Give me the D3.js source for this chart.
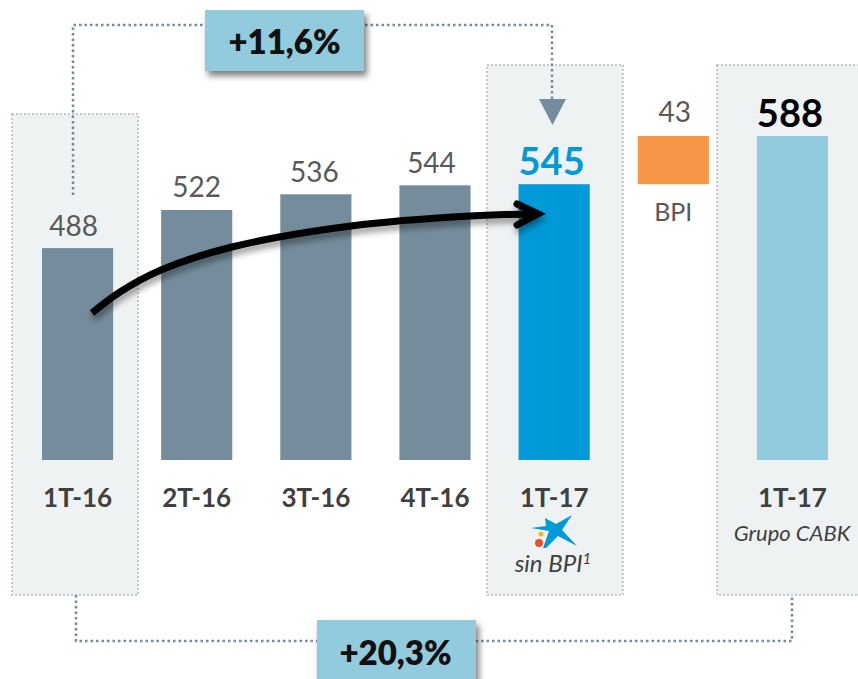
<!DOCTYPE html>
<html>
<head>
<meta charset="utf-8">
<script src="https://cdn.jsdelivr.net/npm/d3@7"></script>
<style>
  html, body { margin: 0; padding: 0; background: #fff; }
  svg { display: block; }
  text { font-family: Lato, "Open Sans", sans-serif; }
</style>
</head>
<body>
<script>
// Quarterly figures
var categories = ['1T-16', '2T-16', '3T-16', '4T-16', '1T-17', 'BPI', '1T-17'];
var values = [488, 522, 536, 544, 545, 43, 588];
var bases = [0, 0, 0, 0, 0, 545, 0]; // BPI sits on top of 545
var barColors = ['#748c9c', '#748c9c', '#748c9c', '#748c9c', '#009ad9', '#f79646', '#92cbdd'];
var labelColors = ['#595959', '#595959', '#595959', '#595959', '#009ad9', '#595959', '#000000'];
var labelWeights = [400, 400, 400, 400, 700, 400, 700];
var subLabels = ['sin BPI', 'Grupo CABK'];
var growthLabels = ['+11,6%', '+20,3%'];

var svg = d3.select('body').append('svg')
   .attr('width', 858)
   .attr('height', 679);

var defs = svg.append('defs');
var shadow = defs.append('filter').attr('id', 'shadow')
   .attr('x', '-20%').attr('y', '-20%').attr('width', '140%').attr('height', '150%');
shadow.append('feDropShadow')
   .attr('dx', 3).attr('dy', 5).attr('stdDeviation', 3)
   .attr('flood-color', '#000').attr('flood-opacity', 0.5);
var arrowShadow = defs.append('filter').attr('id', 'arrowShadow')
   .attr('x', '-10%').attr('y', '-30%').attr('width', '120%').attr('height', '160%');
arrowShadow.append('feDropShadow')
   .attr('dx', 1).attr('dy', 5).attr('stdDeviation', 3)
   .attr('flood-color', '#000').attr('flood-opacity', 0.4);

// band scale by index because 1T-17 appears twice
var x = d3.scaleBand()
   .domain(d3.range(categories.length))
   .range([42, 828])
   .paddingInner(0.403)
   .paddingOuter(0);

// the bars are cut off at the bottom in the original, so the axis starts near 299
var y = d3.scaleLinear()
   .domain([299, 588])
   .range([460, 136])
   .clamp(true);

// the labels are not quite centred over the bars in the original
var labelShift = [-4, 0, -1.5, -3.5, -2.5, 1.5, -2.5];
var labelLift = [12, 13, 12, 12, 9, 14, 9];

// grey panels behind first and last columns
var panels = [
  { x: 12, y: 114, w: 126, h: 481 },
  { x: 487, y: 65, w: 136, h: 530 },
  { x: 717, y: 65, w: 145, h: 530 }
];
svg.selectAll('rect.panel')
   .data(panels)
   .enter()
   .append('rect')
   .attr('class', 'panel')
   .attr('x', function(d) { return d.x; })
   .attr('y', function(d) { return d.y; })
   .attr('width', function(d) { return d.w; })
   .attr('height', function(d) { return d.h; })
   .attr('fill', '#eff2f3')
   .attr('stroke', '#c6c9cb')
   .attr('stroke-width', 2)
   .attr('stroke-dasharray', '2 2');

// dotted connectors
var connectors = [
  [[73, 195], [73, 25], [552, 25], [552, 100]],
  [[76, 595], [76, 641], [792, 641], [792, 595]]
];
svg.selectAll('path.connector')
   .data(connectors)
   .enter()
   .append('path')
   .attr('class', 'connector')
   .attr('d', d3.line())
   .attr('fill', 'none')
   .attr('stroke', '#6f8aa1')
   .attr('stroke-width', 2.5)
   .attr('stroke-dasharray', '2.5 3');

svg.append('path')
   .attr('d', 'M539,99L566,99L552.5,125Z')
   .attr('fill', '#748c9f');

// bars
svg.selectAll('rect.bar')
   .data(values)
   .enter()
   .append('rect')
   .attr('class', 'bar')
   .attr('x', function(d, i) { return x(i); })
   .attr('y', function(d, i) { return y(d + bases[i]); })
   .attr('width', x.bandwidth())
   .attr('height', function(d, i) { return y(bases[i]) - y(d + bases[i]); })
   .attr('fill', function(d, i) { return barColors[i]; });

// value labels
svg.selectAll('text.value')
   .data(values)
   .enter()
   .append('text')
   .attr('class', 'value')
   .attr('x', function(d, i) { return x(i) + x.bandwidth() / 2 + labelShift[i]; })
   .attr('y', function(d, i) { return y(d + bases[i]) - labelLift[i]; })
   .attr('text-anchor', 'middle')
   .attr('font-size', function(d, i) { return labelWeights[i] == 700 ? 38 : 28; })
   .attr('font-weight', function(d, i) { return labelWeights[i]; })
   .attr('fill', function(d, i) { return labelColors[i]; })
   .text(function(d) { return d; });

// category labels through an axis, BPI handled on its own below
var axis = svg.append('g')
   .attr('transform', 'translate(0,460)')
   .call(d3.axisBottom(x)
      .tickSize(0)
      .tickPadding(0)
      .tickFormat(function(i) { return categories[i]; }));
axis.select('.domain').remove();
axis.selectAll('.tick text')
   .attr('y', 47)
   .attr('dy', 0)
   .attr('font-size', 26)
   .attr('font-weight', 700)
   .attr('font-family', 'Lato')
   .attr('fill', '#404040');
axis.selectAll('.tick')
   .filter(function(i) { return categories[i] == 'BPI'; })
   .select('text')
   .attr('y', -239)
   .attr('font-size', 25)
   .attr('font-weight', 400)
   .attr('fill', '#595959');

// sub labels
svg.append('text')
   .attr('x', 553)
   .attr('y', 572)
   .attr('text-anchor', 'middle')
   .attr('font-size', 24)
   .attr('font-style', 'italic')
   .attr('fill', '#404040')
   .text(subLabels[0])
   .append('tspan')
   .attr('dy', -8)
   .attr('font-size', 15)
   .text('1');
svg.append('text')
   .attr('x', 792)
   .attr('y', 541)
   .attr('text-anchor', 'middle')
   .attr('font-size', 22)
   .attr('font-style', 'italic')
   .attr('fill', '#404040')
   .text(subLabels[1]);

// logo
var logo = svg.append('g');
logo.append('path')
   .attr('d', 'M545,518L556,524L572,515L562,530L577,546L558,536L546,548L543,548L549,531L531,528L546,526Z')
   .attr('fill', '#009ad9');
logo.append('circle').attr('cx', 539).attr('cy', 543).attr('r', 4).attr('fill', '#e8502a');
logo.append('circle').attr('cx', 541).attr('cy', 534).attr('r', 2.5).attr('fill', '#f9b91a');

// curved trend arrow
var curve = d3.line().curve(d3.curveCatmullRom.alpha(0.5));
var arrowPts = [[92, 313], [120, 292], [161, 270], [232, 247], [351, 226], [470, 216], [538, 214]];
var arrow = svg.append('g').attr('filter', 'url(#arrowShadow)');
arrow.append('path')
   .attr('d', curve(arrowPts))
   .attr('fill', 'none')
   .attr('stroke', '#000')
   .attr('stroke-width', 7)
   .attr('stroke-linecap', 'butt');
arrow.append('path')
   .attr('d', d3.line()([[517, 204], [538, 214], [517, 225]]))
   .attr('fill', 'none')
   .attr('stroke', '#000')
   .attr('stroke-width', 7)
   .attr('stroke-linecap', 'round')
   .attr('stroke-linejoin', 'miter');

// growth boxes
var boxes = [
  { x: 205, y: 10, w: 159, h: 61 },
  { x: 317, y: 620, w: 159, h: 65 }
];
svg.selectAll('rect.box')
   .data(boxes)
   .enter()
   .append('rect')
   .attr('class', 'box')
   .attr('x', function(d) { return d.x; })
   .attr('y', function(d) { return d.y; })
   .attr('width', function(d) { return d.w; })
   .attr('height', function(d) { return d.h; })
   .attr('fill', '#92cbdd')
   .attr('filter', 'url(#shadow)');
svg.selectAll('text.growth')
   .data(growthLabels)
   .enter()
   .append('text')
   .attr('class', 'growth')
   .attr('x', function(d, i) { return boxes[i].x + boxes[i].w / 2 + (i == 0 ? 0 : -1); })
   .attr('y', function(d, i) { return i == 0 ? 54 : 665; })
   .attr('text-anchor', 'middle')
   .attr('font-size', 33)
   .attr('font-weight', 800)
   .attr('fill', '#111')
   .text(function(d) { return d; });
</script>
</body>
</html>
